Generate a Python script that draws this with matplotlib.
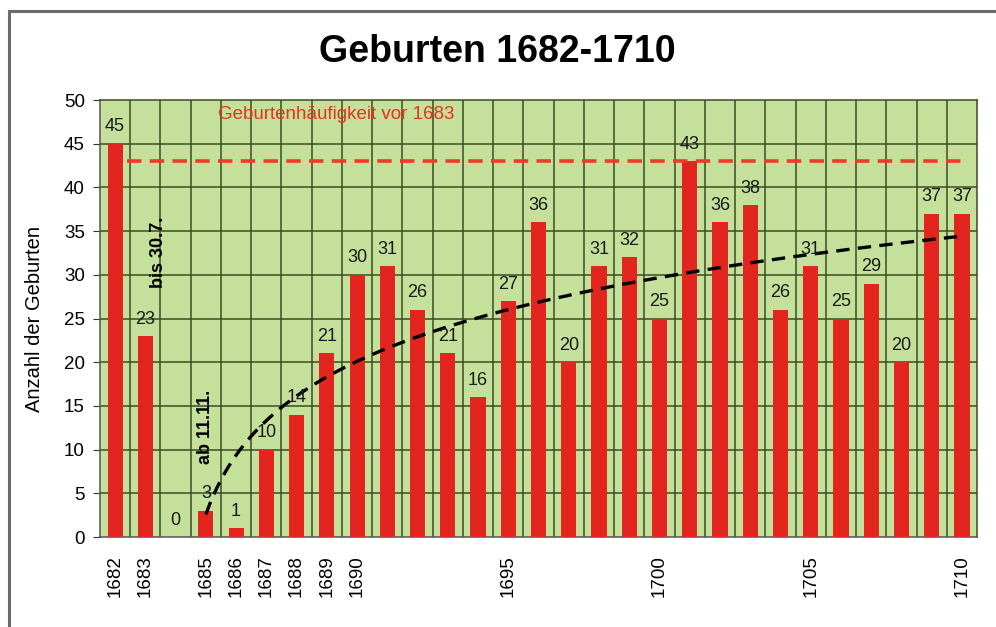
import numpy as np
import matplotlib
matplotlib.use("Agg")
import matplotlib.pyplot as plt
from matplotlib.patches import Rectangle

plt.rcParams['font.family'] = ['Liberation Sans', 'DejaVu Sans']

years = list(range(1682, 1711))
births = [45, 23, 0, 3, 1, 10, 14, 21, 30, 31, 26, 21, 16, 27, 36,
          20, 31, 32, 25, 43, 36, 38, 26, 31, 25, 29, 20, 37, 37]
tick_years = [1682, 1683, 1685, 1686, 1687, 1688, 1689, 1690, 1695, 1700, 1705, 1710]
mean_before = 43  # Geburtenhäufigkeit vor 1683

fig = plt.figure(figsize=(9.96, 6.27), dpi=100)
ax = fig.add_axes([0.1004, 0.1435, 0.8806, 0.697])
ax.set_facecolor('#c4e09b')

ax.bar(years, births, width=0.5, color='#e2261f', zorder=3)
for x, v in zip(years, births):
    ax.annotate(str(v), (x, v), xytext=(0, 6), textcoords='offset points',
                ha='center', va='bottom', fontsize=13, color='#1a1a1a', zorder=5)

# Durchschnitt vor 1683
ax.hlines(mean_before, 1682.4, 1710.05, colors='#f03a28', linewidth=2.6,
          linestyles=(0, (4, 2.3)), zorder=4)
ax.text(1689.3, 48.3, 'Geburtenhäufigkeit vor 1683', color='#e8321e', fontsize=13.5,
        ha='center', va='center', zorder=5)

# logarithmischer Trend ab 1685
t_years = np.array(years[3:])
t_vals = np.array(births[3:])
xs = t_years - 1684
b, a = np.polyfit(np.log(xs), t_vals, 1)
xx = np.linspace(1, xs.max(), 200)
ax.plot(xx + 1684, a + b * np.log(xx), color='black', linewidth=2.4,
        linestyle=(0, (4, 2.5)), zorder=4)

ax.text(1683.42, 32.6, 'bis 30.7.', rotation=90, fontsize=13, fontweight='bold',
        ha='center', va='center', zorder=5)
ax.text(1685.0, 12.6, 'ab 11.11.', rotation=90, fontsize=13, fontweight='bold',
        ha='center', va='center', zorder=5)

ax.set_xlim(1681.5, 1710.5)
ax.set_ylim(0, 50)
ax.set_yticks(range(0, 51, 5))
ax.set_xticks(tick_years)
ax.set_xticklabels([str(y) for y in tick_years], rotation=90, fontsize=13.5)
ax.tick_params(axis='y', labelsize=13.5, length=5, pad=6, color='#333333')
ax.tick_params(axis='x', length=0, pad=13)

# Gitter: waagrecht je 5, senkrecht an den Kategoriegrenzen
for yv in range(5, 50, 5):
    ax.axhline(yv, color='#3d4a22', linewidth=1.1, zorder=1)
for xv in np.arange(1682.5, 1710.5, 1):
    ax.axvline(xv, color='#3d4a22', linewidth=1.1, zorder=1)
for s in ax.spines.values():
    s.set_color('#3d4a22')
    s.set_linewidth(1.1)
ax.spines['bottom'].set_color('#555555')
ax.spines['left'].set_color('#555555')

ax.set_ylabel('Anzahl der Geburten', fontsize=14.5, labelpad=14)
fig.text(0.499, 0.917, 'Geburten 1682-1710', fontsize=27, fontweight='bold',
         ha='center', va='center')

fig.patches.append(Rectangle((0.009, -0.05), 1.2, 1.032, transform=fig.transFigure,
                             fill=False, edgecolor='#6b6b6b', linewidth=2.2))

fig.savefig('out.png', dpi=100)
